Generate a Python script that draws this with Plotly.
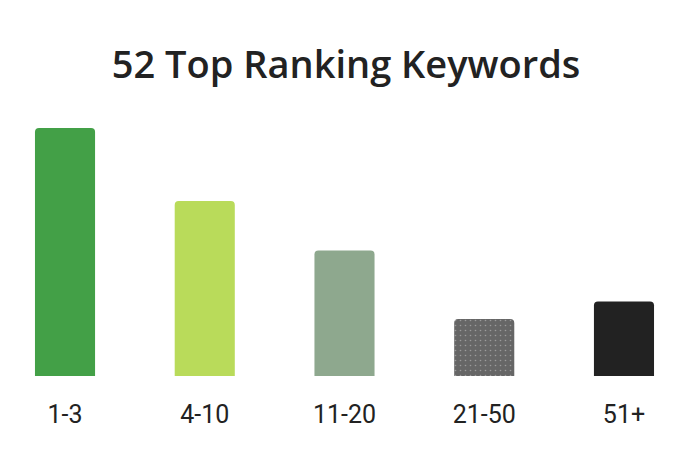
import plotly.graph_objects as go

# Dados do gráfico
categories = ["1-3", "4-10", "11-20", "21-50", "51+"]
keywords = [17, 12, 8.6, 3.9, 5.1]
bar_colors = ["#43a047", "#b9db5a", "#8ea88e", "#666666", "#222222"]
patterns = ["", "", "", ".", ""]

fig = go.Figure(
    go.Bar(
        x=categories,
        y=keywords,
        width=0.43,
        marker=dict(
            color=bar_colors,
            line_width=0,
            pattern=dict(shape=patterns, fillmode="overlay", fgcolor="#4a4a4a",
                         fgopacity=0.35, size=5, solidity=0.08),
        ),
        hoverinfo="skip",
    )
)

# A página tem 8px de margem no body, por isso tudo é deslocado
fig.update_layout(
    width=692,
    height=462,
    margin=dict(l=0, r=0, t=120, b=94),
    paper_bgcolor="white",
    plot_bgcolor="white",
    barcornerradius=4,
    showlegend=False,
    title=dict(
        text="52 Top Ranking Keywords",
        x=338 / 692,
        xanchor="center",
        y=1 - 57 / 462,
        yanchor="middle",
        font=dict(family="Open Sans", size=38, weight=600, color="#222222"),
    ),
)
fig.update_xaxes(
    range=[-0.408, 4.544],
    showgrid=False,
    showline=False,
    zeroline=False,
    ticks="",
    tickfont=dict(family="Roboto", size=25, color="#222222"),
    ticklabelstandoff=21,
)
fig.update_yaxes(range=[0, 17], visible=False)

fig.write_html("out.html")
